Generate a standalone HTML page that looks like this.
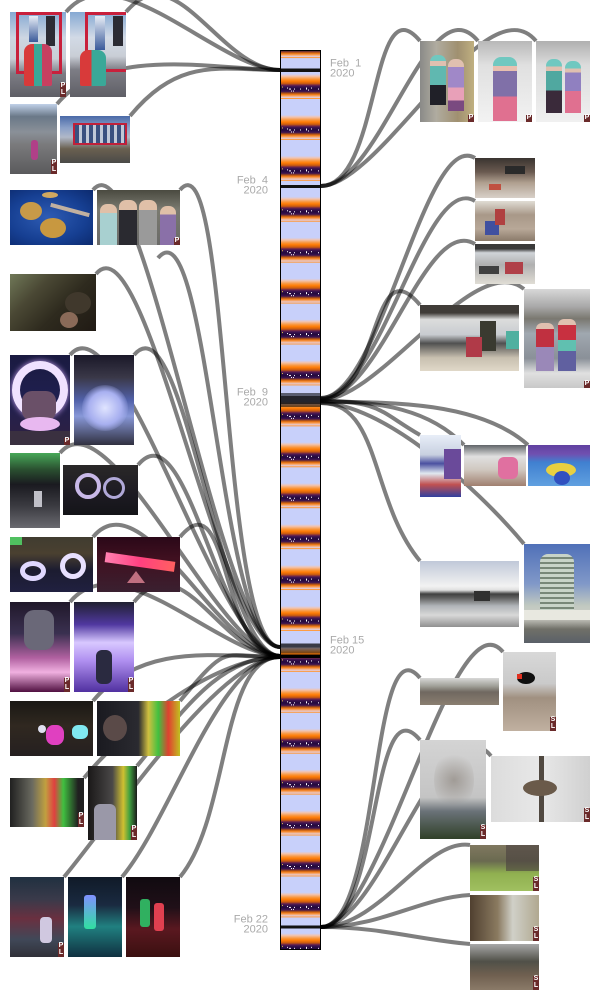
<!DOCTYPE html>
<html><head><meta charset="utf-8">
<style>
html,body{margin:0;padding:0;background:#fff}
body{width:600px;height:1000px;position:relative;overflow:hidden;font-family:"Liberation Sans",Arial,sans-serif}
svg{position:absolute;left:0;top:0}
.p{position:absolute;overflow:hidden}
.p i{position:absolute;display:block}
.b{position:absolute;right:0;bottom:0;width:6px;background:#6a2a2a;color:#fff;font:bold 7px/6.5px "Liberation Sans",sans-serif;text-align:center;padding-bottom:1px}
</style></head>
<body>
<svg width="600" height="1000" viewBox="0 0 600 1000">
<defs>
<linearGradient id="dg" x1="0" y1="0" x2="0" y2="1">
<stop offset="0" stop-color="#c8d0fa"/>
<stop offset="0.135" stop-color="#c8d0fa"/>
<stop offset="0.184" stop-color="#f2c4b0"/>
<stop offset="0.258" stop-color="#f9953a"/>
<stop offset="0.306" stop-color="#ff7c05"/>
<stop offset="0.368" stop-color="#c85a10"/>
<stop offset="0.404" stop-color="#72284a"/>
<stop offset="0.438" stop-color="#3c1452"/>
<stop offset="0.5" stop-color="#22093c"/>
<stop offset="0.561" stop-color="#3c1452"/>
<stop offset="0.598" stop-color="#a04a1c"/>
<stop offset="0.634" stop-color="#f27a10"/>
<stop offset="0.683" stop-color="#f5b58c"/>
<stop offset="0.715" stop-color="#dcd0ec"/>
<stop offset="0.72" stop-color="#ff9a3c"/>
<stop offset="0.742" stop-color="#ff9a3c"/>
<stop offset="0.747" stop-color="#c8d0fa"/>
<stop offset="1" stop-color="#c8d0fa"/>
</linearGradient>
<pattern id="day" patternUnits="userSpaceOnUse" x="281" y="27.64" width="40" height="40.92">
<rect width="40" height="40.92" fill="url(#dg)"/>
<g fill="#fff">
<rect x="6" y="19" width="1" height="1"/>
<rect x="8" y="20" width="2" height="1"/>
<rect x="10" y="22" width="1" height="1"/>
<rect x="12" y="22" width="1" height="1"/>
<rect x="13" y="20" width="1" height="1"/>
<rect x="19" y="20" width="1" height="1"/>
<rect x="25" y="19" width="1" height="2"/>
<rect x="27" y="21" width="1" height="1"/>
<rect x="30" y="19" width="1" height="1"/>
<rect x="37" y="20" width="1" height="1"/>
</g>
<rect x="1" y="18" width="1" height="1" fill="#e0c040"/>
</pattern>
</defs>

<g fill="none" stroke="#000" stroke-opacity="0.5" stroke-width="4">
<path d="M280 70 C220 70 116 -48 66 12"/>
<path d="M280 70 C220 70 176 -48 126 12"/>
<path d="M280 70 C220 70 107 44 57 104"/>
<path d="M280 70 C220 70 180 56 130 116"/>

<path d="M321 186 C381 186 370 -19 420 41"/>
<path d="M321 186 C381 186 428 -19 478 41"/>
<path d="M321 186 C381 186 486 -19 536 41"/>

<path d="M321 398 C381 398 425 128 475 158"/>
<path d="M321 398 C381 398 425 171 475 201"/>
<path d="M321 399 C381 399 425 214 475 244"/>
<path d="M321 399 C381 399 370 245 420 305"/>
<path d="M321 400 C381 400 474 249 524 289"/>
<path d="M321 401 C381 401 380 412 420 435"/>
<path d="M321 401 C381 401 430 410 464 445"/>
<path d="M321 402 C381 402 478 400 528 445"/>
<path d="M321 403 C381 403 370 501 420 561"/>
<path d="M321 403 C381 403 474 484 524 544"/>

<path d="M280 647 C220 647 143 130 93 190"/>
<path d="M280 647 C220 647 230 130 180 190"/>
<path d="M280 647 C220 647 146 214 96 274"/>
<path d="M280 647 C220 647 208 198 158 258"/>
<path d="M280 656 C220 656 120 295 70 355"/>
<path d="M280 656 C220 656 184 295 134 355"/>
<path d="M280 656 C220 656 110 393 60 453"/>
<path d="M280 656 C220 656 188 405 138 465"/>
<path d="M280 656 C220 656 143 477 93 537"/>
<path d="M280 656 C220 656 230 477 180 537"/>
<path d="M280 656 C220 656 120 542 70 602"/>
<path d="M280 656 C220 656 184 542 134 602"/>
<path d="M280 657 C220 657 143 641 93 701"/>
<path d="M280 657 C220 657 230 641 180 701"/>
<path d="M280 657 C220 657 134 718 84 778"/>
<path d="M280 657 C220 657 187 706 137 766"/>
<path d="M280 657 C220 657 114 817 64 877"/>
<path d="M280 657 C220 657 172 817 122 877"/>
<path d="M280 657 C220 657 230 817 180 877"/>

<path d="M321 927 C381 927 370 618 420 678"/>
<path d="M321 927 C381 927 453 592 503 652"/>
<path d="M321 927 C381 927 370 680 420 740"/>
<path d="M321 927 C381 927 441 696 491 756"/>
<path d="M321 927 C381 927 425 838 470 845"/>
<path d="M321 927 C381 927 420 898 470 895"/>
<path d="M321 927 C381 927 420 940 470 944"/>
</g>

<rect x="280.5" y="50.5" width="40" height="899" fill="url(#day)" stroke="#000" stroke-width="1"/>
<rect x="281" y="68.5" width="39" height="3.5" fill="#111"/>
<rect x="281" y="185" width="39" height="3" fill="#111"/>
<rect x="281" y="393" width="39" height="14" fill="#000" fill-opacity="0.55"/>
<rect x="281" y="396" width="39" height="8" fill="#000" fill-opacity="0.6"/>
<rect x="281" y="643.5" width="39" height="4" fill="#000" fill-opacity="0.72"/>
<rect x="281" y="647.5" width="39" height="6" fill="#000" fill-opacity="0.5"/>
<rect x="281" y="654.5" width="39" height="3.5" fill="#000"/>
<rect x="281" y="925.5" width="39" height="3" fill="#111"/>

<g font-family="Liberation Sans, Arial, sans-serif" font-size="11" fill="#aaa">
<text x="330" y="66.5" xml:space="preserve">Feb  1</text>
<text x="330" y="76.5">2020</text>
<text x="268" y="183.5" text-anchor="end" xml:space="preserve">Feb  4</text>
<text x="268" y="193.5" text-anchor="end">2020</text>
<text x="268" y="395.5" text-anchor="end" xml:space="preserve">Feb  9</text>
<text x="268" y="405.5" text-anchor="end">2020</text>
<text x="330" y="643.5">Feb 15</text>
<text x="330" y="653.5">2020</text>
<text x="268" y="922.5" text-anchor="end">Feb 22</text>
<text x="268" y="932.5" text-anchor="end">2020</text>
</g>
</svg>

<!-- LEFT: Feb 1 -->
<div class="p" style="left:10px;top:12px;width:56px;height:85px;background:linear-gradient(180deg,#86a9d3 0%,#cdd6e2 30%,#c9ced6 55%,#7d7d85 72%,#5f5f66 100%)">
<i style="left:6px;top:0;width:46px;height:62px;border:3px solid #c8203c;box-sizing:border-box"></i>
<i style="left:19px;top:4px;width:9px;height:26px;background:linear-gradient(#e8eef6,#3a5a9a)"></i>
<i style="left:36px;top:4px;width:9px;height:30px;background:#2c2c34"></i>
<i style="left:14px;top:32px;width:28px;height:42px;border-radius:8px 8px 2px 2px;background:linear-gradient(90deg,#d83a3a 0 35%,#3aa898 35% 65%,#c84060 65%)"></i>
<span class="b">P<br>L</span>
</div>
<div class="p" style="left:70px;top:12px;width:56px;height:85px;background:linear-gradient(180deg,#86a9d3 0%,#d2dae6 30%,#c9ced6 52%,#7d7d85 68%,#5f5f66 100%)">
<i style="left:15px;top:0;width:44px;height:60px;border:3px solid #c8203c;box-sizing:border-box"></i>
<i style="left:25px;top:4px;width:10px;height:34px;background:linear-gradient(#e8eef6,#3a5a9a)"></i>
<i style="left:43px;top:4px;width:10px;height:30px;background:#2c2c34"></i>
<i style="left:10px;top:38px;width:26px;height:36px;border-radius:8px 8px 2px 2px;background:linear-gradient(90deg,#d83a3a 0 45%,#3aa898 45%)"></i>
</div>
<div class="p" style="left:10px;top:104px;width:47px;height:70px;background:linear-gradient(180deg,#c0d0e8 0%,#6a7888 18%,#8a9098 40%,#7a7a7c 58%,#5a5a5c 100%)">
<i style="left:21px;top:36px;width:7px;height:20px;background:#b04088;border-radius:3px"></i>
<span class="b">P<br>L</span>
</div>
<div class="p" style="left:60px;top:116px;width:70px;height:47px;background:linear-gradient(180deg,#4a6aa8 0%,#8aa0c8 25%,#b0b8c8 45%,#6a6050 70%,#4a4a48 100%)">
<i style="left:13px;top:7px;width:54px;height:22px;border:2px solid #c0203a;box-sizing:border-box;background:repeating-linear-gradient(90deg,#3a5080 0 4px,#c0c8d8 4px 7px)"></i>
</div>

<!-- LEFT: Feb 15 -->
<div class="p" style="left:10px;top:190px;width:83px;height:55px;background:radial-gradient(ellipse at 45% 50%,#2e5cb4 0%,#163f92 60%,#0c2a6e 100%)">
<i style="left:10px;top:12px;width:22px;height:18px;border-radius:50%;background:#c89a48"></i>
<i style="left:30px;top:28px;width:26px;height:20px;border-radius:50%;background:#c89840"></i>
<i style="left:32px;top:2px;width:16px;height:6px;border-radius:50%;background:#d0a860"></i>
<i style="left:40px;top:18px;width:40px;height:4px;background:#c0b0a0;transform:rotate(15deg)"></i>
</div>
<div class="p" style="left:97px;top:190px;width:83px;height:55px;background:linear-gradient(180deg,#4a4a40 0%,#7a7a70 35%,#6a6a68 100%)">
<i style="left:3px;top:14px;width:17px;height:41px;border-radius:7px 7px 0 0;background:linear-gradient(180deg,#e0c0a8 0 22%,#a8d0d0 22%)"></i>
<i style="left:22px;top:10px;width:18px;height:45px;border-radius:7px 7px 0 0;background:linear-gradient(180deg,#e0c0a8 0 22%,#2a2a30 22%)"></i>
<i style="left:42px;top:10px;width:18px;height:45px;border-radius:7px 7px 0 0;background:linear-gradient(180deg,#e0c0a8 0 22%,#9a9a9a 22%)"></i>
<i style="left:63px;top:16px;width:16px;height:39px;border-radius:7px 7px 0 0;background:linear-gradient(180deg,#e0c0a8 0 22%,#8a70a8 22%)"></i>
<span class="b">P</span>
</div>
<div class="p" style="left:10px;top:274px;width:86px;height:57px;background:linear-gradient(135deg,#707858 0%,#4a4834 30%,#2e2a1e 60%,#201a14 100%)">
<i style="left:55px;top:18px;width:26px;height:22px;border-radius:50%;background:#40382c"></i>
<i style="left:50px;top:38px;width:18px;height:16px;border-radius:50%;background:#8a6a58"></i>
</div>
<div class="p" style="left:10px;top:355px;width:60px;height:90px;background:linear-gradient(180deg,#1a1a40 0%,#202050 50%,#302040 100%)">
<i style="left:2px;top:6px;width:56px;height:58px;border:8px solid #f0e2ff;box-sizing:border-box;border-radius:50%;box-shadow:0 0 6px #c8a0f0"></i>
<i style="left:12px;top:36px;width:34px;height:30px;border-radius:10px;background:#6a5068"></i>
<i style="left:10px;top:62px;width:40px;height:14px;border-radius:50%;background:#e8b8f0"></i>
<i style="left:0;top:76px;width:60px;height:14px;background:#3a3040"></i>
<span class="b">P</span>
</div>
<div class="p" style="left:74px;top:355px;width:60px;height:90px;background:linear-gradient(180deg,#1a1828 0%,#3a3848 25%,#5060a8 50%,#8898d8 68%,#303040 100%)">
<i style="left:8px;top:30px;width:46px;height:46px;border-radius:50%;background:radial-gradient(circle,#e0e4ff 0%,#a8b0f0 50%,rgba(120,130,220,0) 75%)"></i>
</div>
<div class="p" style="left:10px;top:453px;width:50px;height:75px;background:linear-gradient(180deg,#48a858 0%,#2a5030 22%,#1a1a20 42%,#3a3a40 70%,#6a6a70 100%)">
<i style="left:24px;top:38px;width:8px;height:16px;background:#c0c0c8"></i>
</div>
<div class="p" style="left:63px;top:465px;width:75px;height:50px;background:linear-gradient(180deg,#2a2828 0%,#1c1a22 60%,#141418 100%)">
<i style="left:12px;top:8px;width:26px;height:26px;border:4px solid #c8b8e8;box-sizing:border-box;border-radius:50%"></i>
<i style="left:40px;top:12px;width:22px;height:22px;border:3px solid #b0a8d8;box-sizing:border-box;border-radius:50%"></i>
</div>
<div class="p" style="left:10px;top:537px;width:83px;height:55px;background:linear-gradient(180deg,#403c30 0%,#4a4030 30%,#1c1c30 60%,#202040 100%)">
<i style="left:10px;top:24px;width:26px;height:20px;border:5px solid #e0d8ff;box-sizing:border-box;border-radius:50%"></i>
<i style="left:50px;top:16px;width:26px;height:26px;border:5px solid #e8e0ff;box-sizing:border-box;border-radius:50%"></i>
<i style="left:0;top:0;width:12px;height:8px;background:#50c060"></i>
</div>
<div class="p" style="left:97px;top:537px;width:83px;height:55px;background:linear-gradient(180deg,#2a0818 0%,#401020 40%,#3a2030 100%)">
<i style="left:8px;top:20px;width:70px;height:10px;background:linear-gradient(90deg,#ff80b0,#ff4080,#ff6060);transform:rotate(8deg)"></i>
<i style="left:30px;top:34px;width:18px;height:12px;background:#c07080;clip-path:polygon(50% 0,100% 100%,0 100%)"></i>
</div>
<div class="p" style="left:10px;top:602px;width:60px;height:90px;background:linear-gradient(180deg,#20182a 0%,#3a3050 35%,#b060a0 62%,#f0b0e0 78%,#501040 100%)">
<i style="left:14px;top:8px;width:30px;height:40px;border-radius:10px;background:#6a6878"></i>
<span class="b">P<br>L</span>
</div>
<div class="p" style="left:74px;top:602px;width:60px;height:90px;background:linear-gradient(180deg,#202030 0%,#5038a0 25%,#d8c8ff 45%,#b090f0 65%,#5030a0 100%)">
<i style="left:22px;top:48px;width:16px;height:34px;border-radius:6px;background:#2a2a40"></i>
<span class="b">P<br>L</span>
</div>
<div class="p" style="left:10px;top:701px;width:83px;height:55px;background:linear-gradient(180deg,#1a1814 0%,#302820 45%,#252020 100%)">
<i style="left:36px;top:24px;width:18px;height:20px;border-radius:40%;background:#e040c0"></i>
<i style="left:62px;top:24px;width:16px;height:14px;border-radius:40%;background:#80e8f0"></i>
<i style="left:28px;top:24px;width:8px;height:8px;border-radius:50%;background:#e0e0f0"></i>
</div>
<div class="p" style="left:97px;top:701px;width:83px;height:55px;background:linear-gradient(90deg,#1a1a20 0%,#2a2a30 50%,#d0c040 62%,#40c040 74%,#e04030 86%,#c0c020 100%)">
<i style="left:6px;top:14px;width:24px;height:26px;border-radius:50%;background:#5a4a48"></i>
</div>
<div class="p" style="left:10px;top:778px;width:74px;height:49px;background:linear-gradient(90deg,#202020 0%,#6a6a60 30%,#c0a040 48%,#e04040 60%,#40c040 72%,#202020 92%)">
<span class="b">P<br>L</span>
</div>
<div class="p" style="left:88px;top:766px;width:49px;height:74px;background:linear-gradient(90deg,#1a1818 0%,#4a4848 50%,#d0c030 72%,#40a040 85%,#1a1a1a 100%)">
<i style="left:6px;top:38px;width:22px;height:36px;background:#9a98a8;border-radius:6px 6px 0 0"></i>
<span class="b">P<br>L</span>
</div>
<div class="p" style="left:10px;top:877px;width:54px;height:80px;background:linear-gradient(180deg,#203040 0%,#3a3a4a 28%,#6a3040 52%,#404858 78%,#303038 100%)">
<i style="left:30px;top:40px;width:12px;height:26px;background:#d0c8e0;border-radius:4px"></i>
<span class="b">P<br>L</span>
</div>
<div class="p" style="left:68px;top:877px;width:54px;height:80px;background:linear-gradient(180deg,#101a28 0%,#1a2a40 35%,#208080 62%,#103040 100%)">
<i style="left:16px;top:18px;width:12px;height:34px;background:linear-gradient(#8090ff,#30e0a0);border-radius:3px"></i>
</div>
<div class="p" style="left:126px;top:877px;width:54px;height:80px;background:linear-gradient(180deg,#100a10 0%,#201018 38%,#5a1820 65%,#3a1010 100%)">
<i style="left:14px;top:22px;width:10px;height:28px;background:#30b060;border-radius:3px"></i>
<i style="left:28px;top:26px;width:10px;height:28px;background:#e04050;border-radius:3px"></i>
</div>

<!-- RIGHT: Feb 4 -->
<div class="p" style="left:420px;top:41px;width:54px;height:81px;background:linear-gradient(90deg,#8a8a88 0%,#b0aca0 30%,#a09070 70%,#c0b080 100%)">
<i style="left:10px;top:14px;width:16px;height:50px;border-radius:7px 7px 0 0;background:linear-gradient(180deg,#70c8c0 0 12%,#e0c0b0 12% 22%,#60b8b0 22% 60%,#202028 60%)"></i>
<i style="left:28px;top:18px;width:16px;height:52px;border-radius:7px 7px 0 0;background:linear-gradient(180deg,#e0c0b0 0 15%,#a088c8 15% 55%,#e8a0b8 55% 80%,#7a4a80 80%)"></i>
<span class="b">P</span>
</div>
<div class="p" style="left:478px;top:41px;width:54px;height:81px;background:linear-gradient(180deg,#b8b8b8 0%,#e0e0e0 30%,#f2f2f2 100%)">
<i style="left:15px;top:16px;width:24px;height:64px;border-radius:8px 8px 0 0;background:linear-gradient(180deg,#70c8c0 0 14%,#e8c0b0 14% 22%,#8070a8 22% 62%,#e07090 62%)"></i>
<span class="b">P</span>
</div>
<div class="p" style="left:536px;top:41px;width:54px;height:81px;background:linear-gradient(180deg,#b0b0b0 0%,#dcdcdc 30%,#f0f0f0 100%)">
<i style="left:10px;top:18px;width:16px;height:54px;border-radius:7px 7px 0 0;background:linear-gradient(180deg,#70c8c0 0 14%,#e0c0b0 14% 22%,#50a8a0 22% 58%,#3a2a3a 58%)"></i>
<i style="left:29px;top:20px;width:16px;height:52px;border-radius:7px 7px 0 0;background:linear-gradient(180deg,#70c8c0 0 14%,#e0c0b0 14% 22%,#9080c0 22% 58%,#e07090 58%)"></i>
<span class="b">P</span>
</div>

<!-- RIGHT: Feb 9 -->
<div class="p" style="left:475px;top:158px;width:60px;height:40px;background:linear-gradient(180deg,#3a3430 0%,#6a5a50 35%,#b0a090 62%,#d8d0c8 100%)">
<i style="left:30px;top:8px;width:20px;height:8px;background:#2a2a2a"></i>
<i style="left:14px;top:26px;width:12px;height:6px;background:#c05040"></i>
</div>
<div class="p" style="left:475px;top:201px;width:60px;height:40px;background:linear-gradient(180deg,#e0dcd4 0%,#a89888 35%,#b8a898 70%,#8a7a6a 100%)">
<i style="left:10px;top:20px;width:14px;height:14px;background:#4050a0"></i>
<i style="left:20px;top:8px;width:10px;height:16px;background:#b04040"></i>
</div>
<div class="p" style="left:475px;top:244px;width:60px;height:40px;background:linear-gradient(180deg,#3a3a3a 0%,#3a3a3a 12%,#d0d4d8 22%,#b0b0b0 52%,#e0ddd5 100%)">
<i style="left:30px;top:18px;width:18px;height:12px;background:#b04048"></i>
<i style="left:4px;top:22px;width:20px;height:8px;background:#404040"></i>
</div>
<div class="p" style="left:420px;top:305px;width:99px;height:66px;background:linear-gradient(180deg,#403c38 0%,#403c38 12%,#dcdcdc 22%,#c8ccd0 45%,#505050 58%,#c8c0b0 80%,#e0d8c8 100%)">
<i style="left:60px;top:16px;width:16px;height:30px;background:#3a3a30"></i>
<i style="left:46px;top:32px;width:16px;height:20px;background:#b03a48"></i>
<i style="left:86px;top:26px;width:13px;height:18px;background:#50b0a0"></i>
</div>
<div class="p" style="left:524px;top:289px;width:66px;height:99px;background:linear-gradient(180deg,#d8d8d8 0%,#a8a8a8 18%,#7a7870 30%,#a0a8b0 45%,#8a9098 70%,#e0e0e0 85%,#c8c8c8 100%)">
<i style="left:12px;top:34px;width:18px;height:48px;border-radius:6px 6px 0 0;background:linear-gradient(180deg,#e0c0b0 0 12%,#c03040 12% 50%,#9a88b8 50%)"></i>
<i style="left:34px;top:30px;width:18px;height:52px;border-radius:6px 6px 0 0;background:linear-gradient(180deg,#e0c0b0 0 12%,#c83040 12% 40%,#60c0b0 40% 62%,#6060a0 62%)"></i>
<span class="b">P</span>
</div>
<div class="p" style="left:420px;top:435px;width:41px;height:62px;background:linear-gradient(180deg,#e8eef8 0%,#c8d0e0 32%,#4a50a0 46%,#e0e8f0 62%,#c05050 80%,#3040a0 100%)">
<i style="left:24px;top:14px;width:17px;height:30px;background:#6a4a9a"></i>
</div>
<div class="p" style="left:464px;top:445px;width:62px;height:41px;background:linear-gradient(180deg,#606468 0%,#e0e0e0 28%,#d0c8c0 60%,#a08070 100%)">
<i style="left:34px;top:12px;width:20px;height:22px;border-radius:6px;background:#e070a0"></i>
</div>
<div class="p" style="left:528px;top:445px;width:62px;height:41px;background:linear-gradient(180deg,#6040a0 0%,#7050b0 22%,#4080d0 42%,#60a0e0 100%)">
<i style="left:18px;top:18px;width:30px;height:14px;border-radius:50%;background:#e8d040"></i>
<i style="left:26px;top:26px;width:16px;height:14px;border-radius:50%;background:#3050c0"></i>
</div>
<div class="p" style="left:420px;top:561px;width:99px;height:66px;background:linear-gradient(180deg,#c0c8d8 0%,#f2f2f2 38%,#e0e0e0 44%,#404040 50%,#606060 56%,#b0b4b8 68%,#d8d8d8 82%,#909090 100%)">
<i style="left:54px;top:30px;width:16px;height:10px;background:#303030"></i>
</div>
<div class="p" style="left:524px;top:544px;width:66px;height:99px;background:linear-gradient(180deg,#5070b8 0%,#8098c8 40%,#c0c8c0 62%,#d0d0c8 74%,#707068 86%,#5a6068 100%)">
<i style="left:16px;top:10px;width:34px;height:58px;border-radius:8px 8px 0 0;background:repeating-linear-gradient(180deg,#c8d4c8 0 3px,#788878 3px 5px)"></i>
<i style="left:0;top:66px;width:66px;height:10px;background:#e8e8e0"></i>
</div>

<!-- RIGHT: Feb 22 -->
<div class="p" style="left:420px;top:678px;width:79px;height:27px;background:linear-gradient(180deg,#d8d8d8 0%,#a0a098 30%,#706860 52%,#8a7e70 100%)"></div>
<div class="p" style="left:503px;top:652px;width:53px;height:79px;background:linear-gradient(180deg,#d8d8d8 0%,#cacaca 40%,#a09080 58%,#c0b0a0 100%)">
<i style="left:14px;top:20px;width:18px;height:12px;border-radius:50%;background:#101010"></i>
<i style="left:14px;top:22px;width:5px;height:5px;background:#e03020"></i>
<span class="b">S<br>L</span>
</div>
<div class="p" style="left:420px;top:740px;width:66px;height:99px;background:linear-gradient(180deg,#d4d4d4 0%,#c4c4c4 58%,#6a7278 72%,#304028 100%)">
<i style="left:14px;top:10px;width:40px;height:60px;border-radius:50%;background:radial-gradient(circle,rgba(120,110,100,.5),rgba(200,200,200,0) 70%)"></i>
<span class="b">S<br>L</span>
</div>
<div class="p" style="left:491px;top:756px;width:99px;height:66px;background:linear-gradient(90deg,#dcdcdc 0%,#e8e8e8 50%,#d0d0d0 100%)">
<i style="left:48px;top:0;width:5px;height:66px;background:#504840"></i>
<i style="left:32px;top:24px;width:34px;height:16px;border-radius:50%;background:#6a5a4a"></i>
<span class="b">S<br>L</span>
</div>
<div class="p" style="left:470px;top:845px;width:69px;height:46px;background:linear-gradient(180deg,#807860 0%,#6a6a50 35%,#90b050 62%,#a0c060 100%)">
<i style="left:36px;top:0;width:33px;height:26px;background:#4a4040;opacity:.6"></i>
<span class="b">S<br>L</span>
</div>
<div class="p" style="left:470px;top:895px;width:69px;height:46px;background:linear-gradient(90deg,#504030 0%,#8a7a60 40%,#d0d0c8 62%,#b0a890 100%)">
<span class="b">S<br>L</span>
</div>
<div class="p" style="left:470px;top:944px;width:69px;height:46px;background:linear-gradient(180deg,#a8a8a8 0%,#505048 38%,#706050 68%,#8a7a68 100%)">
<span class="b">S<br>L</span>
</div>
</body></html>
